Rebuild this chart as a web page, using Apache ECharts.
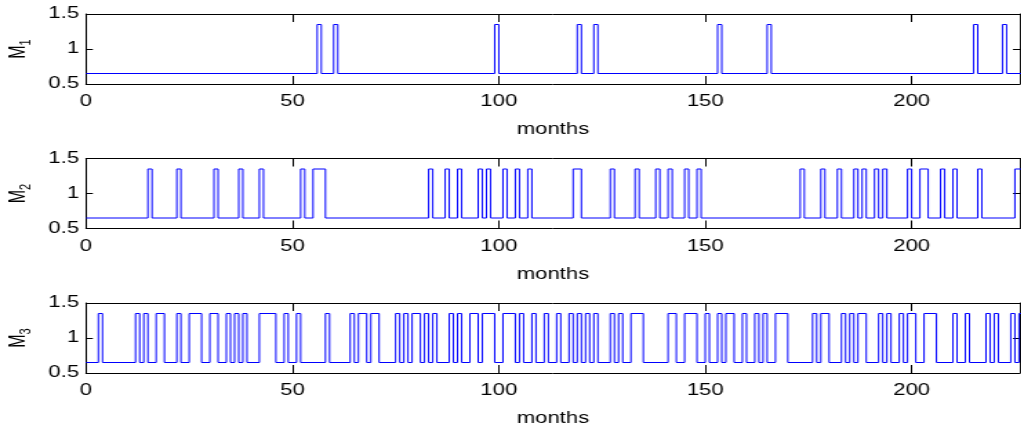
<!DOCTYPE html>
<html>
<head>
<meta charset="utf-8">
<script src="https://cdn.jsdelivr.net/npm/echarts@6/dist/echarts.min.js"></script>
<style>
  html, body { margin: 0; padding: 0; background: #fff; overflow: hidden; }
  /* the reference is stretched sideways, so the chart is drawn narrow and scaled */
  #regimes { width: 740px; height: 432px; transform: scaleX(1.38); transform-origin: 0 0; }
</style>
</head>
<body>
<div id="regimes"></div>
<script>
// regime levels and axis ticks
let lowLevel = 0.65;
let highLevel = 1.35;
let xMax = 226.2;
let xTicks = [0, 50, 100, 150, 200];
let yTicks = [0.5, 1, 1.5];
let panelNames = ['1', '2', '3'];

// months where each regime is in its high state: [from, to]
let m1High = [[56, 57], [60, 61], [99, 100], [119, 120], [123, 124], [153, 154], [165, 166], [215, 216], [222, 223]];
let m2High = [[15, 16], [22, 23], [31, 32], [37, 38], [42, 43], [52, 53], [55, 58], [83, 84], [87, 88], [90, 91],
  [95, 96], [97, 98], [101, 102], [104, 105], [107, 108], [118, 120], [127, 128], [133, 134], [138, 139], [141, 142],
  [145, 146], [148, 149], [173, 174], [178, 179], [182, 183], [186, 187], [188, 189], [191, 192], [193, 194],
  [199, 200], [202, 204], [207, 208], [210, 211], [216, 217], [225, 227]];
let m3High = [[3, 4], [12, 13], [14, 15], [17, 19], [22, 23], [25, 28], [30, 32], [34, 35], [36, 37], [38, 39],
  [42, 46], [48, 49], [51, 52], [58, 59], [64, 65], [66, 68], [69, 71], [75, 76], [77, 78], [79, 81], [82, 83],
  [84, 85], [88, 89], [90, 91], [93, 95], [96, 99], [101, 104], [105, 106], [108, 109], [111, 112], [114, 115],
  [117, 118], [119, 120], [121, 122], [123, 124], [127, 128], [129, 130], [132, 135], [141, 143], [145, 148],
  [150, 151], [153, 154], [155, 157], [159, 160], [162, 163], [164, 165], [167, 170], [176, 177], [178, 180],
  [183, 184], [185, 186], [187, 189], [192, 193], [194, 195], [197, 198], [199, 201], [203, 206], [210, 211],
  [213, 214], [218, 219], [220, 221], [224, 225], [226, 227]];

let font = "'Liberation Sans', Arial, Helvetica, sans-serif";
let black = '#000000';

function stairs(highs) {
  let pts = [[0, lowLevel]];
  highs.forEach(h => {
    pts.push([h[0], lowLevel], [h[0], highLevel], [h[1], highLevel], [h[1], lowLevel]);
  });
  pts.push([xMax + 2, lowLevel]);
  return pts;
}

let panels = [m1High, m2High, m3High];
let gridTops = [14, 158.5, 303];
let grids = [], xAxes = [], yAxes = [], series = [];

panels.forEach((highs, i) => {
  grids.push({
    left: 62.3, right: 1, top: gridTops[i], height: 70,
    containLabel: false, outerBoundsMode: 'none'
  });
  // bottom axis with labels
  xAxes.push({
    gridIndex: i, type: 'value', position: 'bottom', min: 0, max: xMax, interval: 50,
    name: 'months', nameLocation: 'middle', nameGap: 38,
    nameTextStyle: { color: black, fontSize: 16, fontFamily: font },
    axisLine: { onZero: false, lineStyle: { color: black, width: 1 } },
    axisTick: { inside: true, length: 8, lineStyle: { color: black } },
    axisLabel: {
      color: black, fontSize: 16, fontFamily: font, margin: 10, showMaxLabel: false,
      formatter: v => (xTicks.indexOf(v) >= 0 ? String(v) : '')
    },
    splitLine: { show: false }
  });
  // top edge of the box
  xAxes.push({
    gridIndex: i, type: 'value', position: 'top', min: 0, max: xMax, interval: 50,
    axisLine: { onZero: false, lineStyle: { color: black, width: 1 } },
    axisTick: { inside: true, length: 8, lineStyle: { color: black } },
    axisLabel: { show: false },
    splitLine: { show: false }
  });
  yAxes.push({
    gridIndex: i, type: 'value', position: 'left', min: yTicks[0], max: yTicks[yTicks.length - 1], interval: 0.5,
    name: '{m|M}{s|' + panelNames[i] + '}', nameLocation: 'middle', nameGap: 38, nameRotate: 90,
    nameTextStyle: {
      rich: {
        m: { fontSize: 16, lineHeight: 18, fontFamily: font, color: black },
        s: { fontSize: 11, lineHeight: 12, padding: [10, 0, 0, 0], fontFamily: font, color: black }
      }
    },
    axisLine: { onZero: false, lineStyle: { color: black, width: 1 } },
    axisTick: { inside: true, length: 5, lineStyle: { color: black } },
    axisLabel: { color: black, fontSize: 16, fontFamily: font, margin: 5 },
    splitLine: { show: false }
  });
  yAxes.push({
    gridIndex: i, type: 'value', position: 'right', min: yTicks[0], max: yTicks[yTicks.length - 1], interval: 0.5,
    axisLine: { onZero: false, lineStyle: { color: black, width: 1 } },
    axisTick: { inside: true, length: 5, lineStyle: { color: black } },
    axisLabel: { show: false },
    splitLine: { show: false }
  });
  series.push({
    type: 'line', xAxisIndex: 2 * i, yAxisIndex: 2 * i,
    data: stairs(highs), showSymbol: false, animation: false, clip: true,
    lineStyle: { color: '#0000ff', width: 1 }
  });
});

let chart = echarts.init(document.getElementById('regimes'));
chart.setOption({
  animation: false,
  grid: grids,
  xAxis: xAxes,
  yAxis: yAxes,
  series: series
});
</script>
</body>
</html>
